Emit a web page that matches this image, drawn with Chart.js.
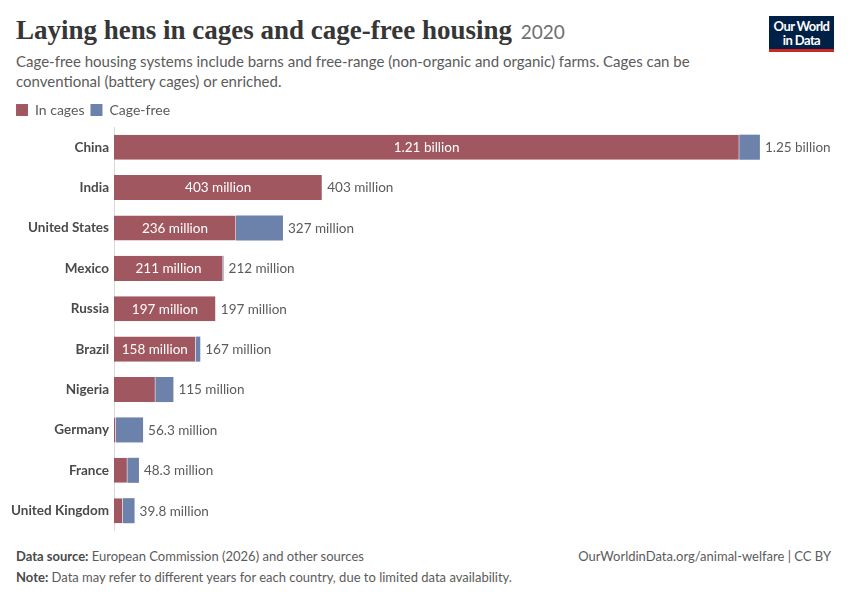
<!DOCTYPE html>
<html>
<head>
<meta charset="utf-8">
<script src="https://cdn.jsdelivr.net/npm/chart.js@4"></script>
<style>
  html,body{margin:0;padding:0;background:#fff;}
  body{width:850px;height:600px;position:relative;overflow:hidden;font-family:Lato,"Open Sans",sans-serif;}
  #title{position:absolute;left:16px;top:15px;font-family:"Liberation Serif","DejaVu Serif",serif;font-weight:bold;font-size:27px;color:#363636;white-space:nowrap;letter-spacing:0;}
  #title .yr{font-family:Lato,sans-serif;font-weight:normal;font-size:19px;color:#6e6e6e;margin-left:2px;letter-spacing:0;}
  #sub{position:absolute;left:16px;top:51px;width:720px;font-size:15px;line-height:20px;color:#5b5b5b;}
  #logo{position:absolute;left:769px;top:16px;width:65px;background:#002147;border-bottom:3px solid #ce261e;color:#fff;font-size:13px;font-weight:bold;line-height:14px;text-align:center;padding-top:3px;height:30px;letter-spacing:-0.6px;}
  #chartWrap{position:absolute;left:0;top:97px;width:850px;height:447px;}
  .foot{position:absolute;font-size:13px;color:#5b5b5b;white-space:nowrap;}
  .foot b{font-weight:bold;color:#4a4a4a;}
</style>
</head>
<body>
<div id="title">Laying hens in cages and cage-free housing <span class="yr">2020</span></div>
<div id="sub">Cage-free housing systems include barns and free-range (non-organic and organic) farms. Cages can be conventional (battery cages) or enriched.</div>
<div id="logo">Our World<br>in Data</div>
<div id="chartWrap"><canvas id="c" width="850" height="447"></canvas></div>
<div class="foot" style="left:16px;top:548px;"><b>Data source:</b> European Commission (2026) and other sources</div>
<div class="foot" style="right:19px;top:548px;">OurWorldinData.org/animal-welfare | CC BY</div>
<div class="foot" style="left:16px;top:569px;"><b>Note:</b> Data may refer to different years for each country, due to limited data availability.</div>
<script>
const countries = ["China","India","United States","Mexico","Russia","Brazil","Nigeria","Germany","France","United Kingdom"];
// values in millions of hens
const inCages  = [1210, 403, 236, 211, 197, 158, 80, 3.3, 25.8, 16.8];
const cageFree = [40,   0,   91,  1,   0,   9,   35, 53,  22.5, 23];
const seriesNames = ["In cages","Cage-free"];
const colors = ["#a0575f","#6d82ab"];

function fmt(m){
  if (m >= 1000) return (m/1000).toPrecision(3) + " billion";
  return Number(m.toPrecision(3)).toString() + " million";
}

const labelPlugin = {
  id:'labels',
  afterDatasetsDraw(chart){
    const ctx = chart.ctx;
    const x = chart.scales.x, y = chart.scales.y;
    ctx.save();
    ctx.font = '13.5px Lato, sans-serif';
    ctx.textBaseline = 'middle';
    countries.forEach((c,i)=>{
      const yc = y.getPixelForValue(i);
      const x0 = x.getPixelForValue(0);
      const x1 = x.getPixelForValue(inCages[i]);
      const total = inCages[i] + cageFree[i];
      const xt = x.getPixelForValue(total);
      const inner = fmt(inCages[i]);
      const w = ctx.measureText(inner).width;
      if (x1 - x0 > w + 12) {
        ctx.fillStyle = '#ffffff';
        ctx.textAlign = 'center';
        ctx.fillText(inner, (x0+x1)/2, yc+0.5);
      }
      ctx.fillStyle = '#5b5b5b';
      ctx.textAlign = 'left';
      ctx.fillText(fmt(total), xt + 5, yc+0.5);
    });
    ctx.restore();
  }
};

new Chart(document.getElementById('c'), {
  type:'bar',
  data:{
    labels: countries,
    datasets:[
      {label:seriesNames[0], data:inCages, backgroundColor:colors[0], borderColor:'rgba(255,255,255,0.6)', borderWidth:{right:0.5}, borderSkipped:false},
      {label:seriesNames[1], data:cageFree, backgroundColor:colors[1], borderWidth:0}
    ]
  },
  options:{
    indexAxis:'y',
    responsive:false,
    animation:false,
    devicePixelRatio:1,
    layout:{padding:{left:10,right:10,top:0,bottom:5}},
    datasets:{bar:{categoryPercentage:1, barPercentage:0.62}},
    plugins:{
      legend:{
        display:true, position:'top', align:'start',
        labels:{boxWidth:12, boxHeight:12, padding:6, font:{family:'Lato', size:14}, color:'#5b5b5b'}
      },
      tooltip:{enabled:false}
    },
    scales:{
      x:{stacked:true, min:0, max:1405, display:false, grid:{display:false}},
      y:{stacked:true,
         afterFit(s){ s.width = 104; },
         grid:{display:false, drawTicks:false},
         border:{display:true, color:'#d9d9d9', width:1},
         ticks:{font:{family:'Lato', size:13.5, weight:'bold'}, color:'#4a4a4a', padding:5}
      }
    }
  },
  plugins:[labelPlugin]
});
</script>
</body>
</html>
